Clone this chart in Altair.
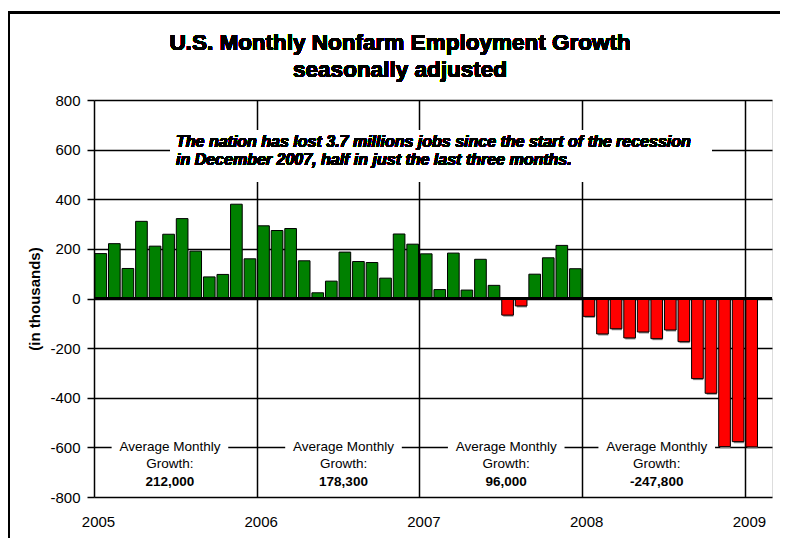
import altair as alt
import pandas as pd

# ---- data ----
months = list(range(49))  # Jan 2005 .. Jan 2009
values = [181, 221, 121, 311, 211, 259, 322, 191, 87, 97, 380, 160,
          293, 274, 282, 152, 23, 70, 187, 149, 145, 82, 260, 219,
          180, 36, 183, 34, 158, 53, -67, -30, 98, 164, 214, 120,
          -72, -143, -122, -159, -135, -162, -127, -174, -323, -382, -597, -577,
          -598]
years = ["2005", "2006", "2007", "2008", "2009"]
year_ticks = [0, 12, 24, 36, 48]
y_ticks = [-800, -600, -400, -200, 0, 200, 400, 600, 800]
avg_labels = ["212,000", "178,300", "96,000", "-247,800"]
avg_pos = [5.6, 18.4, 30.4, 41.5]
note_lines = ["The nation has lost 3.7 millions jobs since the start of the recession",
              "in December 2007, half in just the last three months."]
title_lines = ["U.S. Monthly Nonfarm Employment Growth", "seasonally adjusted"]

FONT = "Liberation Sans"

df = pd.DataFrame({"m": months, "value": values})
df["x0"] = df["m"] + 0.07
df["x1"] = df["m"] + 0.93

avg = pd.DataFrame({"pos": avg_pos, "label": avg_labels})
avg["b0"] = avg["pos"] - 4.3
avg["b1"] = avg["pos"] + 4.3

xscale = alt.Scale(domain=[0, 50], nice=False, zero=False)
yscale = alt.Scale(domain=[-800, 800], nice=False)

label_expr = "[" + ",".join("'%s'" % y for y in years) + "][round(datum.value/12)]"

xaxis = alt.Axis(values=year_ticks, labelExpr=label_expr, grid=True, gridColor="black",
                 gridWidth=1.5, gridOpacity=1, ticks=False, tickSize=0, domain=False,
                 labelFontSize=15, labelFont=FONT, labelColor="black", labelPadding=17,
                 labelOffset=4, labelFlush=False, labelOverlap=False, title=None)
yaxis = alt.Axis(values=y_ticks, labelExpr="datum.value + ''", grid=True, gridColor="black",
                 gridWidth=1.5, gridOpacity=1,
                 tickColor="black", tickSize=7, tickWidth=1.5, domain=False,
                 labelFontSize=15, labelFont=FONT, labelColor="black", labelPadding=7,
                 labelFlush=False, labelOverlap=False,
                 title="(in thousands)", titleFontSize=15, titleFont=FONT,
                 titleFontWeight="bold", titleColor="black", titleX=-60, titleY=198.5,
                 titleBaseline="middle", titleAngle=270)

base = alt.Chart(df)

shadow = base.mark_bar(color="#8a8a8a", xOffset=1.5, yOffset=1.5).encode(
    x=alt.X("x0:Q", scale=xscale, axis=xaxis),
    x2="x1:Q",
    y=alt.Y("value:Q", scale=yscale, axis=yaxis),
    y2=alt.datum(0),
)

bars = base.mark_bar(stroke="black", strokeWidth=1).encode(
    x=alt.X("x0:Q", scale=xscale),
    x2="x1:Q",
    y=alt.Y("value:Q", scale=yscale),
    y2=alt.datum(0),
    color=alt.condition("datum.value > 0", alt.value("#008000"), alt.value("#FF0000")),
)

zero = alt.Chart(df).mark_rule(color="black", strokeWidth=1.5).encode(y=alt.datum(0))

note_box = alt.Chart(df).mark_rect(color="white").encode(
    x=alt.value(76), x2=alt.value(618), y=alt.value(30), y2=alt.value(82))


def note(i, ypx):
    return alt.Chart(df).mark_text(align="left", baseline="middle", fontStyle="italic",
                                   fontWeight="bold", fontSize=16, font=FONT,
                                   color="black").encode(
        x=alt.value(82), y=alt.value(ypx), text=alt.value(note_lines[i]))


note1 = note(0, 42)
note2 = note(1, 60)


def title_line(i, ypx):
    return alt.Chart(df).mark_text(align="center", baseline="middle", fontWeight="bold",
                                   fontSize=22.5, font=FONT, color="black").encode(
        x=alt.value(306), y=alt.value(ypx), text=alt.value(title_lines[i]))


title1 = title_line(0, -57)
title2 = title_line(1, -30)

avg_base = alt.Chart(avg)
avg_box = avg_base.mark_rect(color="white").encode(
    x=alt.X("b0:Q", scale=xscale), x2="b1:Q",
    y=alt.datum(-570, scale=yscale), y2=alt.datum(-632))
avg_t1 = avg_base.mark_text(fontSize=13.5, font=FONT, color="black", baseline="middle").encode(
    x=alt.X("pos:Q", scale=xscale), y=alt.datum(-600), text=alt.value("Average Monthly"))
avg_t2 = avg_base.mark_text(fontSize=13.5, font=FONT, color="black", baseline="middle", dy=16.5).encode(
    x=alt.X("pos:Q", scale=xscale), y=alt.datum(-600), text=alt.value("Growth:"))
avg_t3 = avg_base.mark_text(fontSize=13.5, font=FONT, color="black", baseline="middle",
                            fontWeight="bold", dy=34.5).encode(
    x=alt.X("pos:Q", scale=xscale), y=alt.datum(-600), text="label:N")

left_border = alt.Chart(df).mark_rule(color="black", strokeWidth=3).encode(
    x=alt.value(-85.5), y=alt.value(-89), y2=alt.value(460))
top_border = alt.Chart(df).mark_rule(color="black", strokeWidth=3).encode(
    x=alt.value(-87), x2=alt.value(700), y=alt.value(-87.5))

chart = alt.layer(
    shadow, bars, zero, note_box, note1, note2, avg_box, avg_t1, avg_t2, avg_t3,
    title1, title2, left_border, top_border
).properties(
    width=678, height=397,
    padding={"left": 86, "top": 92, "right": 8, "bottom": 41},
    autosize=alt.AutoSizeParams(type="none"),
).configure_view(stroke="black", strokeWidth=1.5).configure(background="white")

chart.save("out.html", embed_options={"renderer": "svg", "actions": False})
